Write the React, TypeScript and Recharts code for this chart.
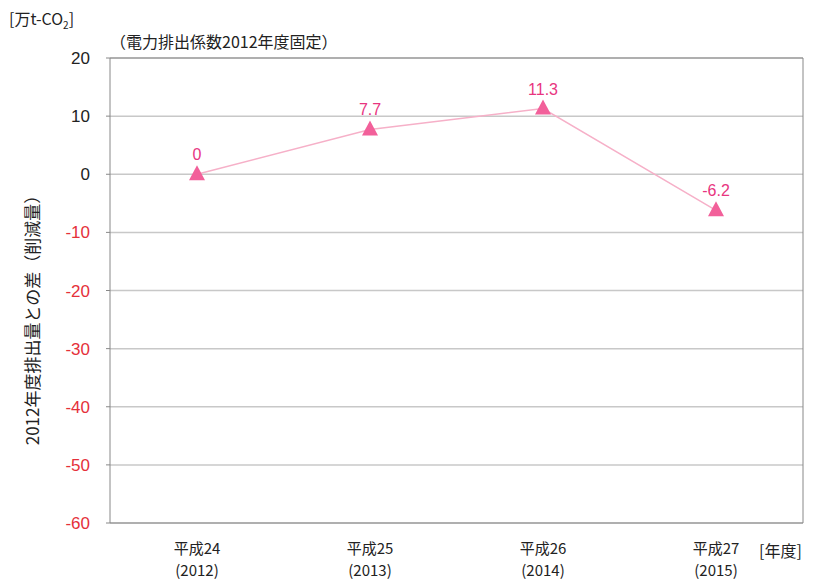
import { CartesianGrid, LabelList, Line, LineChart, XAxis, YAxis } from 'recharts'

const years = ['平成24', '平成25', '平成26', '平成27']
const westernYears = ['(2012)', '(2013)', '(2014)', '(2015)']
const reduction = [0, 7.7, 11.3, -6.2]
const yTicks = [20, 10, 0, -10, -20, -30, -40, -50, -60]

const data = years.map((year, i) => ({
  year,
  western: westernYears[i],
  value: reduction[i],
}))

const FONT = '"Noto Sans CJK JP", "Noto Sans", sans-serif'

const Triangle = (props: any) => {
  const { cx, cy } = props
  if (cx == null || cy == null) return null
  return (
    <path
      d={`M${cx},${cy - 9} L${cx + 8},${cy + 6} L${cx - 8},${cy + 6} Z`}
      fill="#f2609a"
    />
  )
}

const YTick = (props: any) => {
  const { x, y, payload } = props
  const v = payload.value
  return (
    <text
      x={x - 14}
      y={y}
      dy={6}
      textAnchor="end"
      fontSize={17}
      fontFamily='"Liberation Sans", Arial, sans-serif'
      fill={v < 0 ? '#e5303a' : '#222'}
    >
      {v}
    </text>
  )
}

const XTick = (props: any) => {
  const { x, y, index } = props
  return (
    <g fontFamily={FONT} fontSize={15} fill="#222" textAnchor="middle">
      <text x={x} y={y + 23}>{years[index]}</text>
      <text x={x} y={y + 45}>{westernYears[index]}</text>
    </g>
  )
}

export default function App() {
  return (
    <div
      style={{
        position: 'fixed',
        left: 0,
        top: 0,
        width: 818,
        height: 580,
        background: '#fff',
        fontFamily: FONT,
      }}
    >
      <LineChart
        width={818}
        height={580}
        data={data}
        margin={{ top: 58, right: 15, bottom: 0, left: 0 }}
      >
        <CartesianGrid vertical={false} stroke="#c8c8c8" strokeWidth={1.5} />
        <XAxis
          dataKey="year"
          tick={<XTick />}
          tickLine={false}
          axisLine={{ stroke: '#888' }}
          height={57}
          padding={{ left: 87, right: 87 }}
          interval={0}
        />
        <YAxis
          domain={[-60, 20]}
          ticks={yTicks}
          tick={<YTick />}
          width={110}
          axisLine={{ stroke: '#888' }}
          tickLine={{ stroke: '#888' }}
          tickSize={4}
          interval={0}
        />
        <Line
          dataKey="value"
          stroke="#f6b0c8"
          strokeWidth={1.5}
          dot={<Triangle />}
          activeDot={false}
          isAnimationActive={false}
        >
          <LabelList
            dataKey="value"
            position="top"
            offset={14}
            fill="#e8357f"
            fontSize={16}
            fontFamily='"Liberation Sans", Arial, sans-serif'
          />
        </Line>
      </LineChart>
      <svg
        width={818}
        height={580}
        style={{ position: 'absolute', left: 0, top: 0, pointerEvents: 'none' }}
      >
        <line x1={110} y1={58} x2={803} y2={58} stroke="#888" />
        <line x1={803} y1={58} x2={803} y2={523} stroke="#888" />
        <text x={9} y={25} fontSize={16} fill="#222" fontFamily={FONT}>
          [万t-CO<tspan fontSize={10} dy={4}>2</tspan>
          <tspan dy={-4}>]</tspan>
        </text>
        <text x={110} y={48} fontSize={16} fill="#222" fontFamily={FONT}>
          （電力排出係数2012年度固定）
        </text>
        <text
          x={0}
          y={0}
          transform="translate(39,316) rotate(-90)"
          textAnchor="middle"
          fontSize={17}
          fill="#222"
          fontFamily={FONT}
        >
          2012年度排出量との差（削減量）
        </text>
        <text x={759} y={557} fontSize={16} fill="#222" fontFamily={FONT}>
          [年度]
        </text>
      </svg>
    </div>
  )
}
